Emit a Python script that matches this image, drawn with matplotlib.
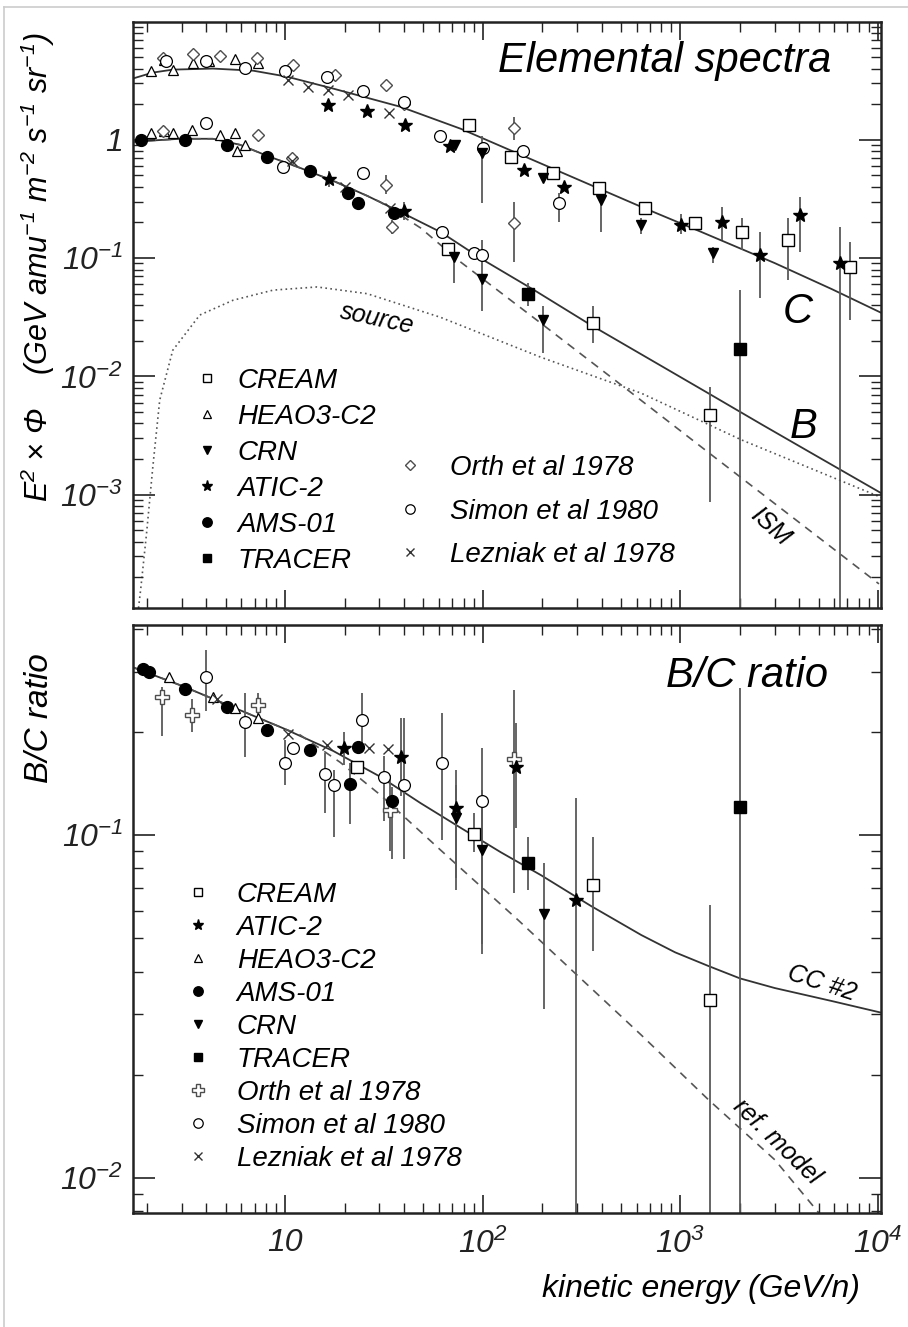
import numpy as np
import matplotlib
matplotlib.use("Agg")
import matplotlib.pyplot as plt
from matplotlib.lines import Line2D
from matplotlib.ticker import LogLocator, FuncFormatter, NullFormatter

plt.rcParams["font.family"] = ["Liberation Sans", "DejaVu Sans"]
plt.rcParams["font.style"] = "italic"
plt.rcParams["mathtext.fontset"] = "custom"
plt.rcParams["mathtext.rm"] = "Liberation Sans:italic"
plt.rcParams["mathtext.it"] = "Liberation Sans:italic"
plt.rcParams["mathtext.default"] = "it"

# ---------------- model curves : E^2 x flux ----------------
c_mod_e = [1.69, 2.14, 2.70, 4.31, 6.89, 10.2, 17.5, 38.4, 77.3, 156, 314, 634, 1279, 3000, 5840, 10470]
c_mod = [3.29, 3.70, 3.92, 4.0, 3.84, 3.42, 2.71, 1.90, 1.24, 0.746, 0.450, 0.271, 0.166, 0.0907, 0.0546, 0.0342]

b_mod_e = [1.69, 2.93, 4.31, 5.92, 8.11, 11.9, 17.5, 26.1, 38.4, 61.2, 101, 182, 353, 713, 1387, 2578, 4467, 10470]
b_mod = [0.962, 1.02, 1.02, 0.907, 0.732, 0.579, 0.450, 0.335, 0.245, 0.166, 0.096, 0.0536, 0.0271,
         0.0137, 0.00718, 0.00392, 0.00231, 0.00102]

ism_e = [1.69, 2.93, 4.31, 5.92, 8.11, 11.9, 17.5, 26.1, 30.3, 48.4, 77.3, 197, 545, 1387, 3000, 10100]
ism = [0.962, 1.02, 1.02, 0.907, 0.732, 0.579, 0.450, 0.335, 0.298, 0.18, 0.0925, 0.0281, 0.0076,
       0.00227, 8.4e-4, 1.76e-4]

src_e = [1.80, 1.86, 1.99, 2.14, 2.32, 2.70, 3.7, 5.45, 8.7, 14.5, 26, 61, 197, 634, 2040, 10500]
src = [1.0e-4, 1.6e-4, 4.7e-4, 1.7e-3, 6.3e-3, 0.0166, 0.033, 0.044, 0.0536, 0.057, 0.050, 0.0316,
       0.0145, 0.0072, 0.0029, 9.4e-4]

# ---------------- model curves : B/C ----------------
cc2_e = [1.69, 3.03, 5.45, 9.77, 17.5, 30.3, 48.4, 77.3, 123, 197, 353, 634, 940, 1387, 2000, 3000,
         5840, 10470]
cc2 = [0.309, 0.272, 0.236, 0.205, 0.176, 0.148, 0.124, 0.105, 0.0892, 0.0764, 0.0621, 0.0511,
       0.0455, 0.0415, 0.0382, 0.0358, 0.0328, 0.0303]

ref_e = [1.69, 3.03, 5.45, 9.77, 11.9, 19.0, 30.3, 61.2, 151, 634, 1387, 3000, 5020, 10470]
ref = [0.309, 0.272, 0.236, 0.205, 0.196, 0.163, 0.131, 0.0904, 0.0565, 0.0261, 0.0169, 0.0113, 0.0079, 0.0053]

# ---------------- carbon data ----------------
cream_c_e = [85, 139, 226, 389, 659, 1183, 2042, 3520, 7240]
cream_c = [1.34, 0.72, 0.52, 0.39, 0.264, 0.197, 0.167, 0.142, 0.084]
cream_c_lo = [1.34, 0.72, 0.52, 0.36, 0.245, 0.175, 0.117, 0.065, 0.030]
cream_c_hi = [1.34, 0.72, 0.52, 0.42, 0.285, 0.22, 0.218, 0.218, 0.138]

heao_c_e = [2.1, 2.45, 2.7, 3.4, 4.1, 5.6, 7.3]
heao_c = [3.8, 4.7, 3.9, 4.5, 4.6, 4.8, 4.5]

crn_c_e = [72, 99.6, 201, 397, 634, 1466]
crn_c = [0.91, 0.77, 0.473, 0.31, 0.19, 0.11]
crn_c_lo = [0.85, 0.29, 0.44, 0.166, 0.16, 0.09]
crn_c_hi = [0.97, 1.07, 0.51, 0.33, 0.22, 0.125]

atic_c_e = [16.5, 26, 40.6, 68, 162, 259, 1012, 1616, 2530, 4040, 6440]
atic_c = [1.98, 1.74, 1.34, 0.88, 0.557, 0.40, 0.19, 0.203, 0.106, 0.231, 0.090]
atic_c_lo = [1.98, 1.74, 1.34, 0.88, 0.557, 0.37, 0.16, 0.142, 0.046, 0.113, 1e-5]
atic_c_hi = [1.98, 1.74, 1.34, 0.88, 0.557, 0.43, 0.235, 0.27, 0.167, 0.331, 0.184]

orth_c_e = [2.4, 3.4, 4.7, 7.2, 11.0, 17.9, 32.2, 39.8, 144, 144]
orth_c = [4.9, 5.3, 5.1, 4.9, 4.3, 3.55, 2.92, 2.0, 1.26, 0.197]
orth_c_lo = [4.9, 5.3, 5.1, 4.9, 4.3, 3.55, 2.92, 2.0, 1.0, 0.093]
orth_c_hi = [4.9, 5.3, 5.1, 4.9, 4.3, 3.55, 2.92, 2.0, 1.55, 0.30]

simon_c_e = [2.5, 4.0, 6.3, 10.0, 16.3, 24.9, 40, 61, 100, 159, 244]
simon_c = [4.6, 4.6, 4.05, 3.8, 3.4, 2.57, 2.1, 1.07, 0.85, 0.80, 0.29]
simon_c_lo = [4.6, 4.6, 4.05, 3.8, 3.4, 2.57, 2.1, 1.07, 0.85, 0.80, 0.20]
simon_c_hi = [4.6, 4.6, 4.05, 3.8, 3.4, 2.57, 2.1, 1.07, 0.85, 0.80, 0.355]

lez_c_e = [10.4, 13.1, 16.5, 20.9, 33.4]
lez_c = [3.2, 2.8, 2.65, 2.4, 1.7]

# ---------------- boron data ----------------
ams_b_e = [1.87, 3.1, 5.06, 8.07, 13.4, 20.9, 23.5, 35.5]
ams_b = [1.0, 1.0, 0.91, 0.72, 0.54, 0.353, 0.29, 0.239]

heao_b_e = [2.1, 2.45, 2.7, 3.36, 4.68, 5.57, 5.7, 6.3]
heao_b = [1.14, 1.18, 1.14, 1.21, 1.10, 1.14, 0.80, 0.91]

orth_b_e = [2.4, 7.3, 10.8, 32.2, 34.8]
orth_b = [1.18, 1.10, 0.70, 0.416, 0.184]
orth_b_lo = [1.18, 1.10, 0.70, 0.35, 0.16]
orth_b_hi = [1.18, 1.10, 0.70, 0.50, 0.21]

simon_b_e = [4.0, 9.8, 24.9, 62.4, 90, 99.6]
simon_b = [1.38, 0.59, 0.52, 0.167, 0.11, 0.106]

lez_b_e = [10.8, 20.0, 34.1]
lez_b = [0.66, 0.40, 0.264]

atic_b_e = [16.6, 39.8]
atic_b = [0.47, 0.25]
atic_b_lo = [0.40, 0.21]
atic_b_hi = [0.55, 0.30]

cream_b_e = [67, 361, 1409]
cream_b = [0.12, 0.028, 0.00467]
cream_b_lo = [0.12, 0.019, 8.6e-4]
cream_b_hi = [0.12, 0.039, 0.0081]

crn_b_e = [71.6, 99.6, 201]
crn_b = [0.103, 0.067, 0.030]
crn_b_lo = [0.061, 0.036, 0.0157]
crn_b_hi = [0.125, 0.142, 0.039]

tracer_b_e = [169, 1995]
tracer_b = [0.050, 0.0172]
tracer_b_lo = [0.039, 1e-5]
tracer_b_hi = [0.061, 0.054]

# ---------------- B/C data ----------------
ams_bc_e = [1.9, 2.05, 3.1, 5.06, 8.07, 13.4, 21.4, 23.5, 34.8]
ams_bc = [0.306, 0.30, 0.267, 0.237, 0.202, 0.177, 0.141, 0.181, 0.126]
ams_bc_lo = [0.306, 0.30, 0.267, 0.237, 0.202, 0.177, 0.108, 0.181, 0.085]
ams_bc_hi = [0.306, 0.30, 0.267, 0.237, 0.202, 0.177, 0.162, 0.181, 0.138]

heao_bc_e = [2.6, 4.3, 5.6, 7.3]
heao_bc = [0.29, 0.253, 0.235, 0.22]

orth_bc_e = [2.37, 3.36, 7.3, 34, 144]
orth_bc = [0.253, 0.224, 0.239, 0.118, 0.167]
orth_bc_lo = [0.195, 0.20, 0.22, 0.09, 0.068]
orth_bc_hi = [0.271, 0.25, 0.26, 0.15, 0.265]

simon_bc_e = [4.0, 6.26, 10.0, 11.0, 15.9, 17.6, 24.4, 31.6, 39.8, 62.4, 99.6]
simon_bc = [0.289, 0.214, 0.162, 0.179, 0.151, 0.14, 0.216, 0.148, 0.14, 0.162, 0.126]
simon_bc_lo = [0.23, 0.169, 0.14, 0.179, 0.116, 0.099, 0.18, 0.11, 0.085, 0.097, 0.048]
simon_bc_hi = [0.346, 0.26, 0.189, 0.179, 0.173, 0.155, 0.26, 0.17, 0.22, 0.227, 0.18]

lez_bc_e = [4.5, 10.4, 16.3, 26.5, 33]
lez_bc = [0.25, 0.197, 0.183, 0.18, 0.178]

atic_bc_e = [19.8, 38.6, 73, 147, 297]
atic_bc = [0.18, 0.169, 0.12, 0.158, 0.0646]
atic_bc_lo = [0.16, 0.13, 0.069, 0.105, 1e-3]
atic_bc_hi = [0.2, 0.22, 0.155, 0.212, 0.128]

crn_bc_e = [73, 99.6, 204]
crn_bc = [0.112, 0.0904, 0.059]
crn_bc_lo = [0.075, 0.045, 0.031]
crn_bc_hi = [0.14, 0.135, 0.083]

tracer_bc_e = [169, 1995]
tracer_bc = [0.0827, 0.121]
tracer_bc_lo = [0.069, 1e-3]
tracer_bc_hi = [0.099, 0.268]

cream_bc_e = [23.2, 90.4, 361, 1409]
cream_bc = [0.158, 0.101, 0.0715, 0.033]
cream_bc_lo = [0.158, 0.089, 0.046, 1e-3]
cream_bc_hi = [0.158, 0.116, 0.099, 0.0625]

# marker styles per experiment
sty = {
    "CREAM": dict(marker="s", ms=8, mfc="white", mec="black", mew=1.0),
    "HEAO3-C2": dict(marker="^", ms=7, mfc="white", mec="black", mew=0.9),
    "CRN": dict(marker="v", ms=7.5, mfc="black", mec="black"),
    "ATIC-2": dict(marker="*", ms=10, mfc="black", mec="black"),
    "AMS-01": dict(marker="o", ms=8.5, mfc="black", mec="black"),
    "TRACER": dict(marker="s", ms=8, mfc="black", mec="black"),
    "Orth": dict(marker="D", ms=6, mfc="white", mec="0.3", mew=1.0),
    "OrthBC": dict(marker="P", ms=10, mfc="white", mec="0.3", mew=1.0),
    "Simon": dict(marker="o", ms=8.5, mfc="white", mec="black", mew=0.9),
    "Lezniak": dict(marker="x", ms=7, mec="0.2", mew=1.0),
}


def draw(ax, e, v, lo=None, hi=None, key="CREAM"):
    e = np.asarray(e, float)
    v = np.asarray(v, float)
    if lo is not None:
        err = [v - np.asarray(lo, float), np.asarray(hi, float) - v]
        ax.errorbar(e, v, yerr=err, fmt="none", ecolor="0.35", elinewidth=1.3,
                    capsize=0, zorder=2)
    return ax.plot(e, v, ls="none", zorder=3, **sty[key])[0]


def dec_label(v, pos):
    k = int(round(np.log10(v)))
    if k == 0:
        return "1"
    if k == 1:
        return "10"
    return r"$10^{%d}$" % k


fig = plt.figure(figsize=(9.08, 13.27), dpi=100)
ax1 = fig.add_axes([0.1465, 0.5418, 0.8238, 0.4416])
ax2 = fig.add_axes([0.1465, 0.0859, 0.8238, 0.4431])

for ax in (ax1, ax2):
    ax.set_xscale("log")
    ax.set_yscale("log")
    ax.set_xlim(1.70, 1.035e4)
    ax.xaxis.set_major_locator(LogLocator(base=10, numticks=20))
    ax.xaxis.set_minor_locator(LogLocator(base=10, subs=np.arange(2, 10), numticks=100))
    ax.yaxis.set_major_locator(LogLocator(base=10, numticks=20))
    ax.yaxis.set_minor_locator(LogLocator(base=10, subs=np.arange(2, 10), numticks=100))
    ax.xaxis.set_major_formatter(FuncFormatter(dec_label))
    ax.yaxis.set_major_formatter(FuncFormatter(dec_label))
    ax.xaxis.set_minor_formatter(NullFormatter())
    ax.yaxis.set_minor_formatter(NullFormatter())
    ax.tick_params(which="both", direction="in", top=True, right=True, labelsize=23, colors="#222")
    ax.tick_params(axis="y", which="major", length=16, width=1.2, pad=7)
    ax.tick_params(axis="x", which="major", length=13, width=1.2, pad=11)
    ax.tick_params(which="minor", length=7, width=1.0)
    for s in ax.spines.values():
        s.set_linewidth(1.8)
        s.set_color("#222")

ax1.set_ylim(1.1e-4, 9.9)
ax2.set_ylim(0.0079, 0.41)
ax1.tick_params(labelbottom=False)

# ---- upper panel: elemental spectra ----
ax1.plot(c_mod_e, c_mod, color="#333", lw=1.3, zorder=1)
ax1.plot(b_mod_e, b_mod, color="#333", lw=1.3, zorder=1)
ax1.plot(ism_e, ism, color="#555", lw=1.2, ls=(0, (5, 4)), zorder=1)
ax1.plot(src_e, src, color="#555", lw=1.2, ls=(0, (1, 2)), zorder=1)

draw(ax1, heao_c_e, heao_c, key="HEAO3-C2")
h_heao = draw(ax1, heao_b_e, heao_b, key="HEAO3-C2")
draw(ax1, orth_c_e, orth_c, orth_c_lo, orth_c_hi, key="Orth")
h_orth = draw(ax1, orth_b_e, orth_b, orth_b_lo, orth_b_hi, key="Orth")
draw(ax1, simon_c_e, simon_c, simon_c_lo, simon_c_hi, key="Simon")
h_simon = draw(ax1, simon_b_e, simon_b, key="Simon")
draw(ax1, lez_c_e, lez_c, key="Lezniak")
h_lez = draw(ax1, lez_b_e, lez_b, key="Lezniak")
draw(ax1, cream_c_e, cream_c, cream_c_lo, cream_c_hi, key="CREAM")
h_cream = draw(ax1, cream_b_e, cream_b, cream_b_lo, cream_b_hi, key="CREAM")
draw(ax1, crn_c_e, crn_c, crn_c_lo, crn_c_hi, key="CRN")
h_crn = draw(ax1, crn_b_e, crn_b, crn_b_lo, crn_b_hi, key="CRN")
draw(ax1, atic_c_e, atic_c, atic_c_lo, atic_c_hi, key="ATIC-2")
h_atic = draw(ax1, atic_b_e, atic_b, atic_b_lo, atic_b_hi, key="ATIC-2")
h_ams = draw(ax1, ams_b_e, ams_b, key="AMS-01")
h_tracer = draw(ax1, tracer_b_e, tracer_b, tracer_b_lo, tracer_b_hi, key="TRACER")

leg1 = ax1.legend([h_cream, h_heao, h_crn, h_atic, h_ams, h_tracer],
                  ["CREAM", "HEAO3-C2", "CRN", "ATIC-2", "AMS-01", "TRACER"],
                  loc="upper left", bbox_to_anchor=(0.080, 0.4096), frameon=False, fontsize=20,
                  handlelength=1.0, handletextpad=0.6, labelspacing=0.36, borderpad=0,
                  borderaxespad=0, markerscale=0.8)
ax1.add_artist(leg1)
ax1.legend([h_orth, h_simon, h_lez], ["Orth et al 1978", "Simon et al 1980", "Lezniak et al 1978"],
           loc="upper left", bbox_to_anchor=(0.352, 0.261), frameon=False, fontsize=20,
           handlelength=1.0, handletextpad=0.94, labelspacing=0.63, borderpad=0,
           borderaxespad=0, markerscale=0.8)

ax1.text(0.934, 0.915, "Elemental spectra", transform=ax1.transAxes, ha="right", va="baseline", fontsize=30)
ax1.text(0.888, 0.486, "C", transform=ax1.transAxes, ha="center", va="baseline", fontsize=30)
ax1.text(0.896, 0.290, "B", transform=ax1.transAxes, ha="center", va="baseline", fontsize=30)
ax1.text(0.326, 0.494, "source", transform=ax1.transAxes, ha="center", va="center",
         rotation=-12, fontsize=18)
ax1.text(0.852, 0.138, "ISM", transform=ax1.transAxes, ha="center", va="center",
         rotation=-42, fontsize=18)

# ---- lower panel: B/C ratio ----
ax2.plot(cc2_e, cc2, color="#333", lw=1.3, zorder=1)
ax2.plot(ref_e, ref, color="#555", lw=1.2, ls=(0, (5, 4)), zorder=1)

g_heao = draw(ax2, heao_bc_e, heao_bc, key="HEAO3-C2")
g_orth = draw(ax2, orth_bc_e, orth_bc, orth_bc_lo, orth_bc_hi, key="OrthBC")
g_simon = draw(ax2, simon_bc_e, simon_bc, simon_bc_lo, simon_bc_hi, key="Simon")
g_lez = draw(ax2, lez_bc_e, lez_bc, key="Lezniak")
g_cream = draw(ax2, cream_bc_e, cream_bc, cream_bc_lo, cream_bc_hi, key="CREAM")
g_atic = draw(ax2, atic_bc_e, atic_bc, atic_bc_lo, atic_bc_hi, key="ATIC-2")
g_crn = draw(ax2, crn_bc_e, crn_bc, crn_bc_lo, crn_bc_hi, key="CRN")
g_ams = draw(ax2, ams_bc_e, ams_bc, ams_bc_lo, ams_bc_hi, key="AMS-01")
g_tracer = draw(ax2, tracer_bc_e, tracer_bc, tracer_bc_lo, tracer_bc_hi, key="TRACER")

ax2.legend([g_cream, g_atic, g_heao, g_ams, g_crn, g_tracer, g_orth, g_simon, g_lez],
           ["CREAM", "ATIC-2", "HEAO3-C2", "AMS-01", "CRN", "TRACER",
            "Orth et al 1978", "Simon et al 1980", "Lezniak et al 1978"],
           loc="upper left", bbox_to_anchor=(0.068, 0.563), frameon=False, fontsize=20,
           handlelength=1.0, handletextpad=0.9, labelspacing=0.25, borderpad=0,
           borderaxespad=0, markerscale=0.8)

ax2.text(0.929, 0.895, "B/C ratio", transform=ax2.transAxes, ha="right", va="baseline", fontsize=30)
ax2.text(0.921, 0.391, "CC #2", transform=ax2.transAxes, ha="center", va="center",
         rotation=-18, fontsize=18)
ax2.text(0.861, 0.121, "ref. model", transform=ax2.transAxes, ha="center", va="center",
         rotation=-44, fontsize=18)

# axis titles
fig.text(0.042, 0.799, "E$^{2}$ × Φ    (GeV amu$^{-1}$ m$^{-2}$ s$^{-1}$ sr$^{-1}$)",
         rotation=90, ha="center", va="center", fontsize=22)
fig.text(0.044, 0.459, "B/C ratio", rotation=90, ha="center", va="center", fontsize=24)
fig.text(0.947, 0.029, "kinetic energy (GeV/n)", ha="right", va="center", fontsize=23)

# thin page border
fig.add_artist(Line2D([0.0045, 0.0045], [0.0, 0.9947], color="#cccccc", lw=1.2, transform=fig.transFigure))
fig.add_artist(Line2D([0.0045, 1.0], [0.9947, 0.9947], color="#cccccc", lw=1.2, transform=fig.transFigure))

fig.savefig("out.png", dpi=100)
plt.close("all")
